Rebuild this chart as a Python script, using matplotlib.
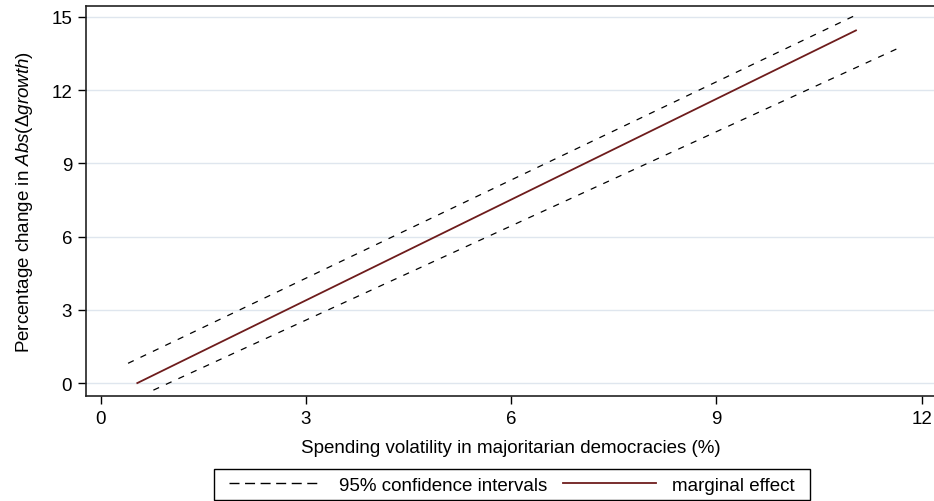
import numpy as np
import matplotlib
matplotlib.use("Agg")
import matplotlib.pyplot as plt
from matplotlib.lines import Line2D
from matplotlib.patches import Rectangle

plt.rcParams['font.family'] = ['Liberation Sans', 'DejaVu Sans']
plt.rcParams['mathtext.fontset'] = 'custom'
plt.rcParams['mathtext.rm'] = 'Liberation Sans'
plt.rcParams['mathtext.it'] = 'Liberation Sans:italic'

# Data (straight lines, endpoints)
me_x = [0.535, 11.04]
me_y = [0.0, 14.45]
ci_hi_x = [0.40, 11.04]
ci_hi_y = [0.81, 15.08]
ci_lo_x = [0.77, 11.72]
ci_lo_y = [-0.29, 13.80]

x_ticks = [0, 3, 6, 9, 12]
y_ticks = [0, 3, 6, 9, 12, 15]

RED = '#6e1c1c'
GRID = '#dfe6ee'
FS = 13.5
W, H = 934, 502

fig = plt.figure(figsize=(W / 100, H / 100), dpi=100)
ax = fig.add_axes([86 / W, 105 / H, 850 / W, 390 / H])

for y in y_ticks:
    ax.axhline(y, color=GRID, lw=1.0, zorder=0)

ax.plot(ci_hi_x, ci_hi_y, color='black', lw=0.9, dashes=(5, 6))
ax.plot(ci_lo_x, ci_lo_y, color='black', lw=0.9, dashes=(5, 6))
ax.plot(me_x, me_y, color=RED, lw=1.3)

ax.set_xlim(-0.215, 12.21)
ax.set_ylim(-0.53, 15.45)
ax.set_xticks(x_ticks)
ax.set_yticks(y_ticks)
ax.tick_params(labelsize=FS, length=6, width=1, color='black', pad=4)

for s in ax.spines.values():
    s.set_linewidth(1.2)
    s.set_color('#222222')

ax.set_xlabel('Spending volatility in majoritarian democracies (%)', fontsize=FS, labelpad=8.5)
ax.set_ylabel(r'Percentage change in $\mathit{Abs}(\Delta\mathit{growth})$', fontsize=FS, labelpad=12)

handles = [
    Line2D([], [], color='black', lw=1.0, dashes=(7.2, 4.0)),
    Line2D([], [], color=RED, lw=1.3),
]
leg = fig.legend(handles, ['95% confidence intervals', 'marginal effect'],
                 loc='center', bbox_to_anchor=(512 / W, 1 - 486 / H), ncol=2,
                 fontsize=FS, handlelength=4.95, handletextpad=0.9,
                 columnspacing=0.85, frameon=False, borderpad=0.0)

# legend box drawn by hand, wider padding at the sides than on top
fig.canvas.draw()
bb = leg.get_window_extent()
x0 = (bb.x0 - 15) / W
x1 = (bb.x1 + 15) / W
y_top = 1 - 470 / H
y_bot = 1 - 501 / H
fig.add_artist(Rectangle((x0, y_bot), x1 - x0, y_top - y_bot,
                         transform=fig.transFigure, fill=False,
                         edgecolor='black', lw=1.0))

fig.savefig('out.png', dpi=100)
